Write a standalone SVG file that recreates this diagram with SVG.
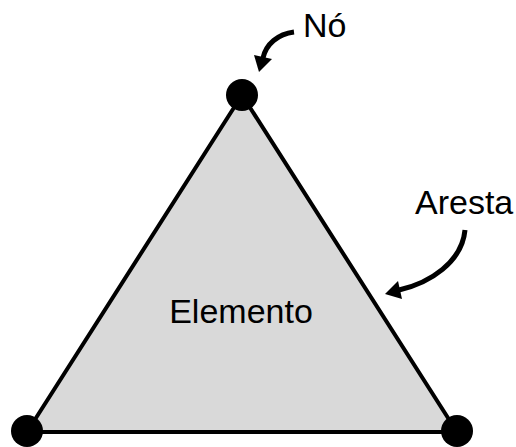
<svg xmlns="http://www.w3.org/2000/svg" width="516" height="447" viewBox="0 0 516 447">
<style>
.lbl{font-family:"Liberation Sans",Arial,sans-serif;font-size:34px;fill:#000}
.node{fill:#000}
.arr{fill:none;stroke:#000;stroke-width:5;stroke-linecap:butt}
</style>
<rect width="516" height="447" fill="#fff"/>
<g id="element">
<polygon points="242,95 27,432 457,432" fill="#d9d9d9" stroke="#000" stroke-width="4" stroke-linejoin="round"/>
<text class="lbl" x="241" y="323" text-anchor="middle">Elemento</text>
</g>
<g id="node-top"><circle class="node" cx="242" cy="95" r="16"/></g>
<g id="node-left"><circle class="node" cx="27" cy="431" r="16"/></g>
<g id="node-right"><circle class="node" cx="457" cy="431" r="16"/></g>
<g id="label-no"><text class="lbl" x="303" y="37">Nó</text></g>
<g id="label-aresta"><text class="lbl" x="415" y="214">Aresta</text></g>
<g id="connectors">
<path class="arr" d="M 294 32 C 278 34, 266 44, 263 58"/>
<polygon points="259,72 254,55 272,59"/>
<path class="arr" d="M 465 230 C 462 262, 430 283, 399 290"/>
<polygon points="385,294 398,281 402,299"/>
</g>
</svg>
